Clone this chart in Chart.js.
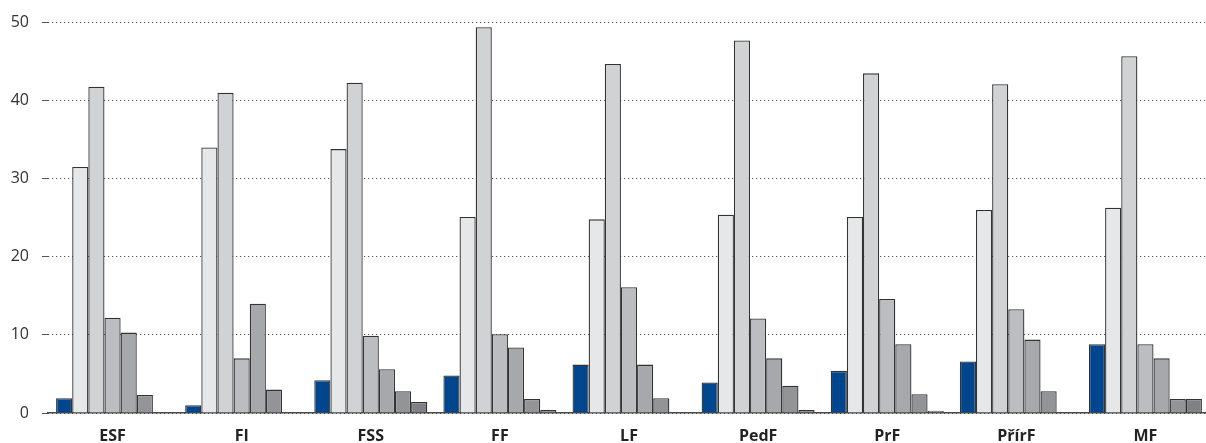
<!DOCTYPE html>
<html>
<head>
<meta charset="utf-8">
<script src="https://cdn.jsdelivr.net/npm/chart.js@4.4.1/dist/chart.umd.min.js"></script>
<style>
    html, body { margin: 0; padding: 0; background: #fff; overflow: hidden; }
    #wrap { width: 1212px; height: 443px; position: relative; }
</style>
</head>
<body>
<div id="wrap"><canvas id="facultyChart"></canvas></div>
<script>
// Faculties (categories)
const faculties = ['ESF', 'FI', 'FSS', 'FF', 'LF', 'PedF', 'PrF', 'PřírF', 'MF'];

// Seven series per faculty
const series1 = [1.9, 1.0, 4.2, 4.8, 6.2, 3.9, 5.4, 6.6, 8.8];
const series2 = [31.5, 34.0, 33.8, 25.1, 24.8, 25.4, 25.1, 26.0, 26.3];
const series3 = [41.8, 41.0, 42.3, 49.4, 44.7, 47.7, 43.5, 42.1, 45.7];
const series4 = [12.2, 7.0, 9.9, 10.1, 16.1, 12.1, 14.6, 13.3, 8.8];
const series5 = [10.3, 14.0, 5.6, 8.4, 6.2, 7.0, 8.8, 9.4, 7.0];
const series6 = [2.3, 3.0, 2.8, 1.8, 1.9, 3.5, 2.4, 2.8, 1.8];
const series7 = [0, 0, 1.4, 0.4, 0, 0.4, 0.3, 0, 1.8];

const yTicks = [0, 10, 20, 30, 40, 50];

const seriesColors = ['#00468f', '#e6e7e9', '#d1d2d4', '#bcbdc0', '#a7a8ab', '#939497', '#808184'];
const allSeries = [series1, series2, series3, series4, series5, series6, series7];

function buildDatasets() {
    return allSeries.map((values, i) => ({
        label: 'Řada ' + (i + 1),
        data: values.map(v => (v === 0 ? null : v)),
        backgroundColor: seriesColors[i],
        borderColor: '#333335',
        borderWidth: 1.3,
        borderSkipped: 'bottom',
        categoryPercentage: 0.875,
        barPercentage: 1.0
    }));
}

const ctx = document.getElementById('facultyChart');
new Chart(ctx, {
    type: 'bar',
    data: {
        labels: faculties,
        datasets: buildDatasets()
    },
    options: {
        responsive: true,
        maintainAspectRatio: false,
        animation: false,
        layout: {
            padding: { top: 12, right: 2, bottom: 0, left: 0 }
        },
        plugins: {
            legend: { display: false },
            tooltip: { enabled: false }
        },
        scales: {
            x: {
                grid: { display: false, drawTicks: false },
                border: { display: true, color: '#4a4a4a', width: 1.5 },
                ticks: {
                    color: '#222',
                    padding: 14,
                    font: { family: 'Open Sans', size: 16, weight: 'bold' }
                },
                afterFit: function(scale) { scale.height = 30; }
            },
            y: {
                min: 0,
                max: 50,
                afterBuildTicks: function(scale) {
                    scale.ticks = yTicks.map(v => ({ value: v }));
                },
                grid: {
                    color: '#555',
                    lineWidth: 1,
                    tickLength: 6,
                    drawTicks: true
                },
                border: { display: false, dash: [1.2, 2.8] },
                ticks: {
                    color: '#333',
                    padding: 13,
                    font: { family: 'Open Sans', size: 16 }
                },
                afterFit: function(scale) { scale.width = 48; }
            }
        }
    }
});
</script>
</body>
</html>
